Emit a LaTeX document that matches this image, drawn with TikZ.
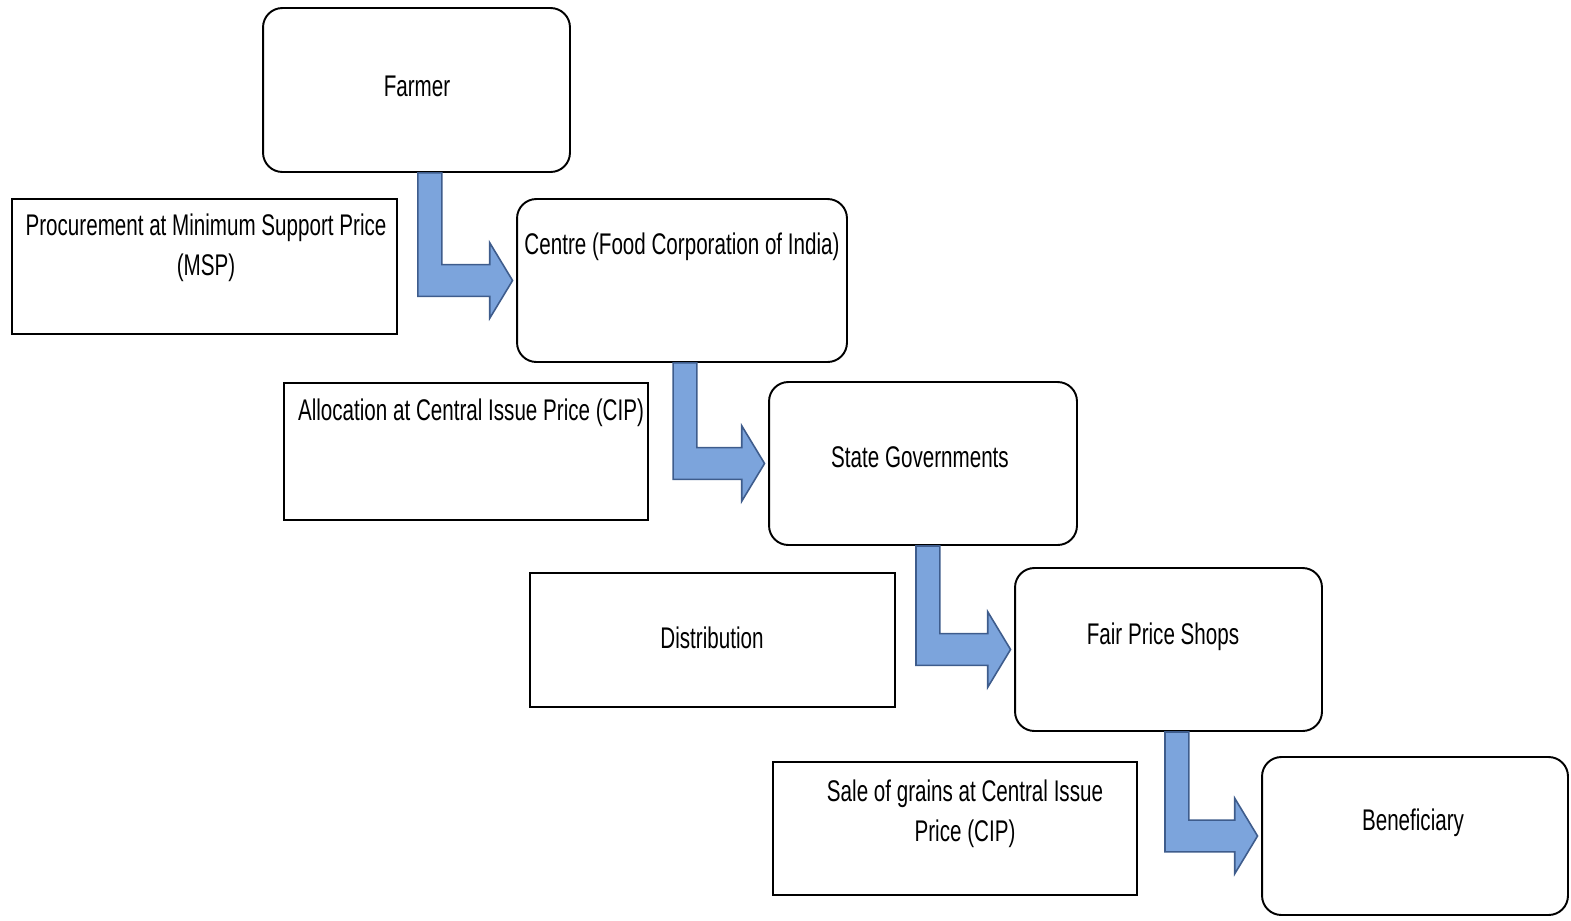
\documentclass[tikz,border=0pt]{standalone}
\usepackage{fontspec}
\setmainfont{Liberation Sans}[FakeStretch=0.69]
\usetikzlibrary{calc}
\definecolor{arrowfill}{RGB}{124,164,220}
\definecolor{arrowline}{RGB}{62,92,140}
\tikzset{
  rbox/.style={draw,rounded corners=11pt,line width=1.1pt,inner sep=0pt},
  pbox/.style={draw,line width=1.1pt,inner sep=0pt},
  txt/.style={inner sep=0pt,align=center,font=\fontsize{17}{22.7}\selectfont},
  bent/.style={fill=arrowfill,draw=arrowline,line width=0.9pt,line join=miter}
}
% bent block arrow from the bottom of #2 to the left side of #3,
% shaft shifted right by #1
\newcommand{\bentarrow}[3][0pt]{%
  \draw[bent] let \p1=($(#2.south)+(#1,0)$), \p2=(#3.west) in
    (\x1-6.8pt,\y1) -- (\x1+6.8pt,\y1) -- (\x1+6.8pt,\y2+9pt) -- (\x2-15pt,\y2+9pt)
    -- (\x2-15pt,\y2+21.5pt) -- (\x2-2pt,\y2) -- (\x2-15pt,\y2-21.5pt)
    -- (\x2-15pt,\y2-9pt) -- (\x1-6.8pt,\y2-9pt) -- cycle;}

\begin{document}
\begin{tikzpicture}[x=0.02cm,y=-0.02cm]
\useasboundingbox (0,0) rectangle (1571,920);
% stages
\node[rbox,minimum width=6.14cm,minimum height=3.28cm] (farmer) at (416.5,90) {};
\node[rbox,minimum width=6.6cm,minimum height=3.26cm] (fci) at (682,280.5) {};
\node[rbox,minimum width=6.16cm,minimum height=3.26cm] (state) at (923,463.5) {};
\node[rbox,minimum width=6.14cm,minimum height=3.26cm] (fps) at (1168.5,649.5) {};
\node[rbox,minimum width=6.12cm,minimum height=3.16cm] (benef) at (1415,836) {};
% price boxes
\node[pbox,minimum width=7.7cm,minimum height=2.7cm] (msp) at (204.5,266.5) {};
\node[pbox,minimum width=7.28cm,minimum height=2.74cm] (cip) at (466,451.5) {};
\node[pbox,minimum width=7.3cm,minimum height=2.68cm] (dist) at (712.5,640) {};
\node[pbox,minimum width=7.28cm,minimum height=2.66cm] (sale) at (955,828.5) {};
% texts
\node[txt] (farmer-t) at (417,86) {Farmer};
\node[txt] (fci-t) at (682,247) {Centre (Food Corporation of India)};
\node[txt] (state-t) at (920,457) {State Governments};
\node[txt] (fps-t) at (1163,637) {Fair Price Shops};
\node[txt] (benef-t) at (1413,823) {Beneficiary};
\node[txt] (msp-t) at (206,248) {Procurement at Minimum Support Price\\(MSP)};
\node[txt] (cip-t) at (471,413) {Allocation at Central Issue Price (CIP)};
\node[txt] (dist-t) at (712,638) {Distribution};
\node[txt] (sale-t) at (965,814) {Sale of grains at Central Issue\\Price (CIP)};
% flow
\bentarrow[7.6pt]{farmer}{fci}
\bentarrow[1.7pt]{fci}{state}
\bentarrow[2.8pt]{state}{fps}
\bentarrow[4.8pt]{fps}{benef}
\end{tikzpicture}
\end{document}
